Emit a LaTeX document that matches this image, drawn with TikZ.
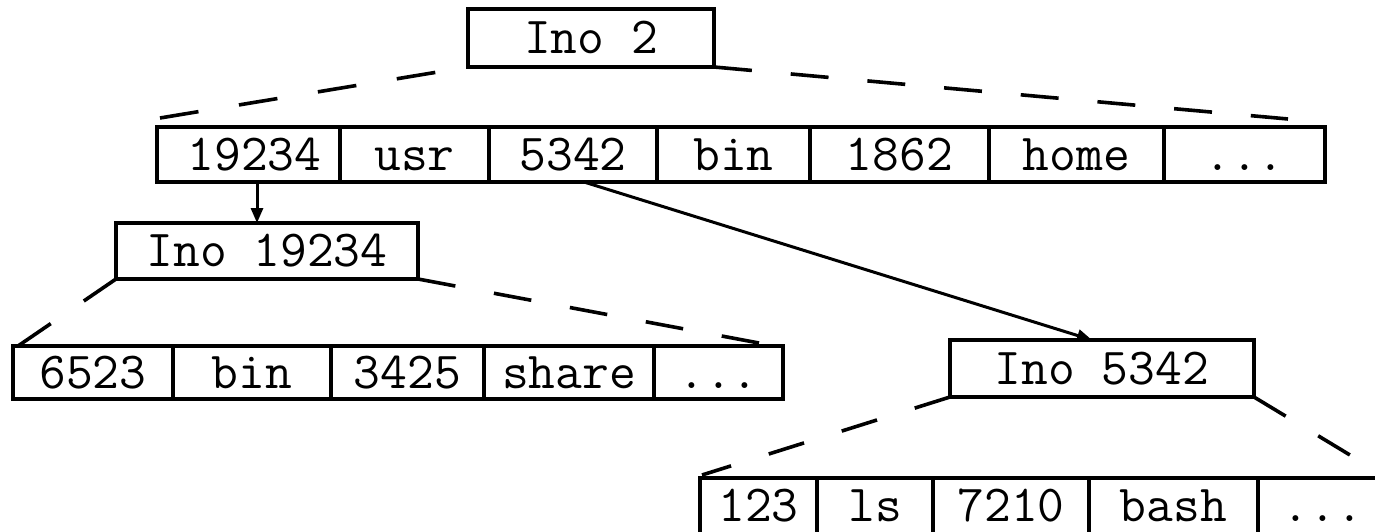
\documentclass[tikz,border=0pt]{standalone}
\usetikzlibrary{arrows.meta,calc}
\begin{document}
\begin{tikzpicture}[x=1pt,y=-1pt,
  txt/.style={font=\fontsize{52}{56}\selectfont\ttfamily, text height=31pt, text depth=0pt},
  cellbox/.style={draw, line width=3.6pt, inner sep=0pt, outer sep=0pt, anchor=north west, txt},
  dsh/.style={line width=3.6pt, dash pattern=#1},
  arr/.style={line width=3pt, -{Triangle[length=15pt,width=12pt]}}
]
\useasboundingbox (0,0) rectangle (1375,531);
\clip (0,0) rectangle (1375,531);
% #1 name, #2 x1, #3 x2, #4 y1, #5 y2, #6 text
\newcommand\mycell[6]{\node[cellbox, minimum width={#3pt-#2pt}, minimum height={#5pt-#4pt}] (#1) at (#2,#4) {#6};}
% inode boxes
\mycell{ino2}{468}{714}{9}{67}{Ino 2}
\mycell{inoA}{116}{418}{223}{279}{Ino 19234}
\mycell{inoB}{950}{1254}{340}{397}{Ino 5342}
% top row
\mycell{ta}{157}{340}{127}{182}{\hspace*{12pt}19234}
\mycell{tb}{340}{489}{127}{182}{usr}
\mycell{tc}{489}{657}{127}{182}{5342}
\mycell{td}{657}{810}{127}{182}{bin}
\mycell{te}{810}{989}{127}{182}{1862}
\mycell{tf}{989}{1164}{127}{182}{home}
\mycell{tg}{1164}{1325}{127}{182}{...}
% middle row
\mycell{ma}{13}{173}{346}{399}{6523}
\mycell{mb}{173}{331}{346}{399}{bin}
\mycell{mc}{331}{484}{346}{399}{3425}
\mycell{md}{484}{654}{346}{399}{share}
\mycell{me}{654}{783}{346}{399}{...}
% bottom row
\mycell{ba}{700}{817}{478}{534}{123}
\mycell{bb}{817}{933}{478}{534}{ls}
\mycell{bc}{933}{1089}{478}{534}{7210}
\mycell{bd}{1089}{1258}{478}{534}{bash}
\mycell{be}{1258}{1388}{478}{534}{...}
% free ends of the dashed fan lines
\coordinate (fTL) at (160,118);
\coordinate (fTR) at (1288,119);
\coordinate (fAL) at (18,346);
\coordinate (fAR) at (759,343);
\coordinate (fBL) at (702,475);
% dashed fan lines
\draw[dsh={on 39pt off 41pt}] (fTL) -- (ino2.south west);
\draw[dsh={on 38pt off 39pt}] (ino2.south east) -- (fTR);
\draw[dsh={on 39pt off 40pt}] (inoA.south west) -- (fAL);
\draw[dsh={on 38pt off 39.25pt}] (inoA.south east) -- (fAR);
\draw[dsh={on 37pt off 39.5pt}] (inoB.south west) -- (fBL);
\draw[dsh={on 37pt off 38pt}] (inoB.south east) -- (be.north east);
% pointers
\draw[arr] ([xshift=8.5pt]ta.south) -- ([xshift=8.5pt]ta.south |- inoA.north);
\draw[arr] ([xshift=11pt]tc.south) -- ([xshift=-10pt]inoB.north);
\end{tikzpicture}
\end{document}
